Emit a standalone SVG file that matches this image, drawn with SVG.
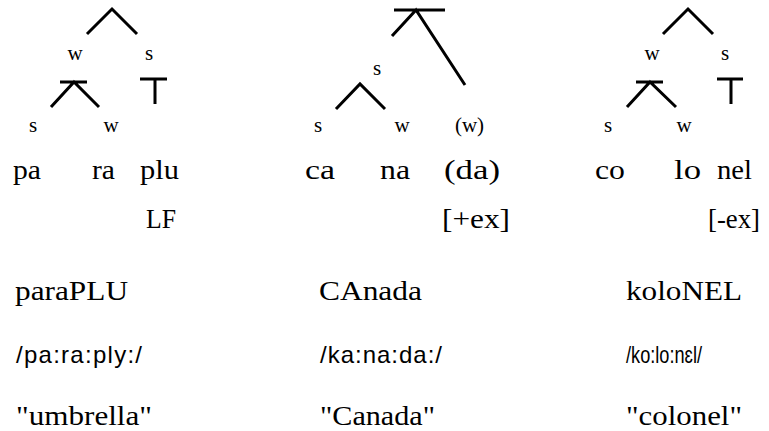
<svg xmlns="http://www.w3.org/2000/svg" width="769" height="431" viewBox="0 0 769 431">
<style>
  .ln { fill: none; stroke: #000; stroke-width: 3; stroke-linecap: butt; stroke-linejoin: miter; }
  .lab { font-family: "Liberation Serif", "Times New Roman", serif; font-size: 21px; fill: #000; text-anchor: middle; }
  .syl { font-family: "Liberation Serif", "Times New Roman", serif; font-size: 27px; fill: #000; }
  .ipa { font-family: "Liberation Sans", Arial, sans-serif; font-size: 24px; fill: #000; }
</style>
<rect width="769" height="431" fill="#fff"/>
<g id="connectors">
  <path class="ln" d="M87,34 L112,9 L137,34"/>
  <path class="ln" d="M60,82 H87 M51,107 L74,82 L99,107"/>
  <path class="ln" d="M140,79 H167 M155,79 V104"/>
  <path class="ln" d="M394,10 H445 M392,36 L416,10 L465,85"/>
  <path class="ln" d="M336,109 L360,84 L385,109"/>
  <path class="ln" d="M663,34 L688,9 L713,34"/>
  <path class="ln" d="M636,82 H663 M627,107 L650,82 L676,107"/>
  <path class="ln" d="M717,79 H743 M731,79 V104"/>
</g>
<g id="tree-paraplu">
  <g id="t1-w"><text class="lab" x="75" y="60">w</text></g>
  <g id="t1-s"><text class="lab" x="149" y="60">s</text></g>
  <g id="t1-ws"><text class="lab" x="33" y="132">s</text></g>
  <g id="t1-ww"><text class="lab" x="111" y="132">w</text></g>
  <g id="t1-pa"><text class="syl" x="13" y="179" textLength="28" lengthAdjust="spacingAndGlyphs">pa</text></g>
  <g id="t1-ra"><text class="syl" x="92" y="179" textLength="23" lengthAdjust="spacingAndGlyphs">ra</text></g>
  <g id="t1-plu"><text class="syl" x="140" y="179" textLength="39" lengthAdjust="spacingAndGlyphs">plu</text></g>
  <g id="t1-lf"><text class="syl" x="146" y="228" textLength="30" lengthAdjust="spacingAndGlyphs">LF</text></g>
  <g id="t1-word"><text class="syl" x="15" y="300" textLength="113" lengthAdjust="spacingAndGlyphs">paraPLU</text></g>
  <g id="t1-ipa"><text class="ipa" x="16" y="363" textLength="126">/pa:ra:ply:/</text></g>
  <g id="t1-gloss"><text class="syl" x="16" y="425" textLength="136" lengthAdjust="spacingAndGlyphs">"umbrella"</text></g>
</g>
<g id="tree-canada">
  <g id="t2-s"><text class="lab" x="377" y="75">s</text></g>
  <g id="t2-ss"><text class="lab" x="318" y="132">s</text></g>
  <g id="t2-sw"><text class="lab" x="402" y="132">w</text></g>
  <g id="t2-w"><text class="lab" x="469.5" y="132">(w)</text></g>
  <g id="t2-ca"><text class="syl" x="305" y="179" textLength="30" lengthAdjust="spacingAndGlyphs">ca</text></g>
  <g id="t2-na"><text class="syl" x="380" y="179" textLength="30" lengthAdjust="spacingAndGlyphs">na</text></g>
  <g id="t2-da"><text class="syl" x="444" y="179" textLength="56" lengthAdjust="spacingAndGlyphs">(da)</text></g>
  <g id="t2-ex"><text class="syl" x="442" y="228" textLength="68" lengthAdjust="spacingAndGlyphs">[+ex]</text></g>
  <g id="t2-word"><text class="syl" x="319" y="300" textLength="103" lengthAdjust="spacingAndGlyphs">CAnada</text></g>
  <g id="t2-ipa"><text class="ipa" x="320" y="363" textLength="122">/ka:na:da:/</text></g>
  <g id="t2-gloss"><text class="syl" x="320" y="425" textLength="115" lengthAdjust="spacingAndGlyphs">"Canada"</text></g>
</g>
<g id="tree-kolonel">
  <g id="t3-w"><text class="lab" x="652" y="60">w</text></g>
  <g id="t3-s"><text class="lab" x="725" y="60">s</text></g>
  <g id="t3-ws"><text class="lab" x="608" y="132">s</text></g>
  <g id="t3-ww"><text class="lab" x="684" y="132">w</text></g>
  <g id="t3-co"><text class="syl" x="595" y="179" textLength="30" lengthAdjust="spacingAndGlyphs">co</text></g>
  <g id="t3-lo"><text class="syl" x="674" y="179" textLength="27" lengthAdjust="spacingAndGlyphs">lo</text></g>
  <g id="t3-nel"><text class="syl" x="717" y="179" textLength="35" lengthAdjust="spacingAndGlyphs">nel</text></g>
  <g id="t3-ex"><text class="syl" x="708" y="228" textLength="52" lengthAdjust="spacingAndGlyphs">[-ex]</text></g>
  <g id="t3-word"><text class="syl" x="626" y="300" textLength="116" lengthAdjust="spacingAndGlyphs">koloNEL</text></g>
  <g id="t3-ipa"><text class="ipa" x="626" y="363" textLength="76" lengthAdjust="spacingAndGlyphs">/ko:lo:nɛl/</text></g>
  <g id="t3-gloss"><text class="syl" x="626" y="425" textLength="116" lengthAdjust="spacingAndGlyphs">"colonel"</text></g>
</g>
</svg>
